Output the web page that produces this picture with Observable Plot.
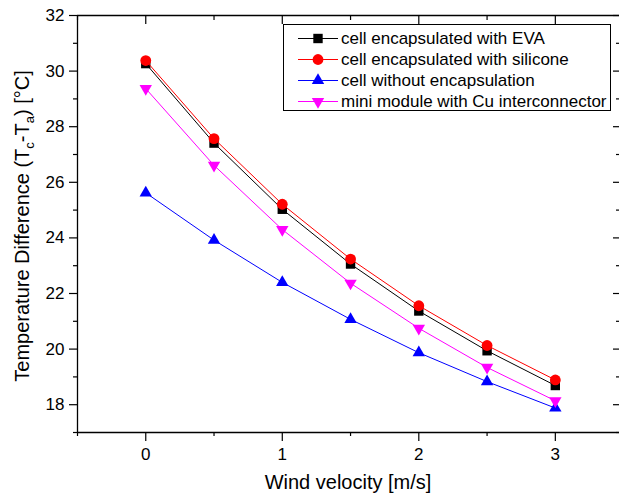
<!DOCTYPE html>
<html><head><meta charset="utf-8">
<script src="https://cdn.jsdelivr.net/npm/d3@7"></script>
<script src="https://cdn.jsdelivr.net/npm/@observablehq/plot@0.6"></script>
<style>
body{margin:0;background:#fff;font-family:"Liberation Sans",Arial,sans-serif}
#chart{position:relative;width:619px;height:497px;overflow:hidden}
#legend{position:absolute;left:283px;top:24px;width:328px;height:87px;border:1px solid #000;background:#fff;box-sizing:border-box;padding-top:3px}
.row{position:relative;height:21px;line-height:21px;font-size:17px;white-space:nowrap}
.row svg{position:absolute;left:0;top:0}
.row span{position:absolute;left:57px;top:0}
</style>
</head><body><div id="chart"></div>
<script>
// ---- data ----
const wind = [0, 0.5, 1, 1.5, 2, 2.5, 3];
const eva = [30.27, 27.41, 25.03, 23.06, 21.37, 19.94, 18.69];
const silicone = [30.38, 27.57, 25.21, 23.24, 21.56, 20.13, 18.89];
const noEncapsulation = [25.62, 23.92, 22.40, 21.07, 19.87, 18.83, 17.88];
const miniModule = [29.37, 26.61, 24.30, 22.37, 20.75, 19.34, 18.14];
const seriesNames = ["cell encapsulated with EVA", "cell encapsulated with silicone", "cell without encapsulation", "mini module with Cu interconnector"];
const seriesValues = [eva, silicone, noEncapsulation, miniModule];
const seriesColors = ["#000000", "#ff0000", "#0000ff", "#ff00ff"];
const seriesSymbols = ["square", "circle", "triangle", "triangle"];
const seriesRotate = [0, 0, 0, 180];
const seriesR = [5.3, 5.4, 4.6, 4.6];
const xMajor = [0, 1, 2, 3];
const xMinor = [-0.5, 0.5, 1.5, 2.5, 3.5];
const yMajor = [18, 20, 22, 24, 26, 28, 30, 32];
const yMinor = [17, 19, 21, 23, 25, 27, 29, 31];
const xDomain = [-0.5, 3.47];
const yDomain = [17, 32];
const xTitle = "Wind velocity [m/s]";

const rows = seriesNames.flatMap((name, i) => wind.map((w, j) => ({series: name, idx: i, x: w, y: seriesValues[i][j]})));

const seriesMarks = seriesNames.flatMap((name, i) => {
  const d = rows.filter(r => r.idx === i);
  return [
    Plot.line(d, {x: "x", y: "y", stroke: seriesColors[i], strokeWidth: 1}),
    Plot.dot(d, {x: "x", y: "y", fill: seriesColors[i], stroke: "none", symbol: seriesSymbols[i], r: seriesR[i], rotate: seriesRotate[i]})
  ];
});

const blank = () => "";
const plain = d => String(d);
const plot = Plot.plot({
  width: 619, height: 497,
  marginLeft: 77, marginRight: 0, marginTop: 15, marginBottom: 65,
  style: {fontFamily: "'Liberation Sans', Arial, sans-serif", background: "#fff", color: "#000"},
  x: {domain: xDomain, label: null, axis: null},
  y: {domain: yDomain, label: null, axis: null},
  marks: [
    ...seriesMarks,
    Plot.ruleY(yDomain, {stroke: "#000", strokeWidth: 1.3}),
    Plot.ruleX([xDomain[0]], {stroke: "#000", strokeWidth: 1.3}),
    Plot.axisY(yMajor, {anchor: "left", tickSize: 8, tickPadding: 5, fontSize: 17, tickFormat: plain, label: null, strokeWidth: 1.2}),
    Plot.axisY(yMinor, {anchor: "left", tickSize: 4, tickFormat: blank, label: null, strokeWidth: 1.2}),
    Plot.axisY(yMajor, {anchor: "right", tickSize: -7, tickFormat: blank, label: null, strokeWidth: 1.2}),
    Plot.axisY(yMinor, {anchor: "right", tickSize: -4, tickFormat: blank, label: null, strokeWidth: 1.2}),
    Plot.axisX(xMajor, {anchor: "bottom", tickSize: 9, tickPadding: 6, fontSize: 17, tickFormat: plain, label: null, strokeWidth: 1.2}),
    Plot.axisX(xMinor, {anchor: "bottom", tickSize: 4, tickFormat: blank, label: null, strokeWidth: 1.2}),
    Plot.axisX(xMajor, {anchor: "top", tickSize: -8, tickFormat: blank, label: null, strokeWidth: 1.2}),
    Plot.axisX(xMinor, {anchor: "top", tickSize: -4, tickFormat: blank, label: null, strokeWidth: 1.2})
  ]
});

const chart = document.getElementById("chart");
chart.appendChild(plot);

// axis titles (with subscripts)
const svg = d3.select(plot);
svg.append("text")
  .attr("x", 348).attr("y", 489)
  .attr("text-anchor", "middle").attr("font-size", 20).attr("fill", "#000")
  .text(xTitle);
const yt = svg.append("text")
  .attr("transform", "translate(29,226) rotate(-90)")
  .attr("text-anchor", "middle").attr("font-size", 20).attr("fill", "#000");
yt.append("tspan").text("Temperature Difference (T");
yt.append("tspan").attr("font-size", 13).attr("dy", 5).text("c");
yt.append("tspan").attr("dy", -5).text("-T");
yt.append("tspan").attr("font-size", 13).attr("dy", 5).text("a");
yt.append("tspan").attr("dy", -5).text(") [°C]");

// legend
const legend = document.createElement("div");
legend.id = "legend";
seriesNames.forEach((name, i) => {
  const row = document.createElement("div");
  row.className = "row";
  const s = d3.create("svg").attr("width", 56).attr("height", 21);
  s.append("line").attr("x1", 14).attr("x2", 54).attr("y1", 10.5).attr("y2", 10.5).attr("stroke", seriesColors[i]).attr("stroke-width", 1);
  const sym = {square: d3.symbolSquare, circle: d3.symbolCircle, triangle: d3.symbolTriangle}[seriesSymbols[i]];
  s.append("path").attr("d", d3.symbol(sym, Math.PI * seriesR[i] ** 2)())
    .attr("transform", `translate(34,10.5) rotate(${seriesRotate[i]})`).attr("fill", seriesColors[i]);
  row.appendChild(s.node());
  const t = document.createElement("span");
  t.textContent = name;
  row.appendChild(t);
  legend.appendChild(row);
});
chart.appendChild(legend);
</script>
</body></html>
